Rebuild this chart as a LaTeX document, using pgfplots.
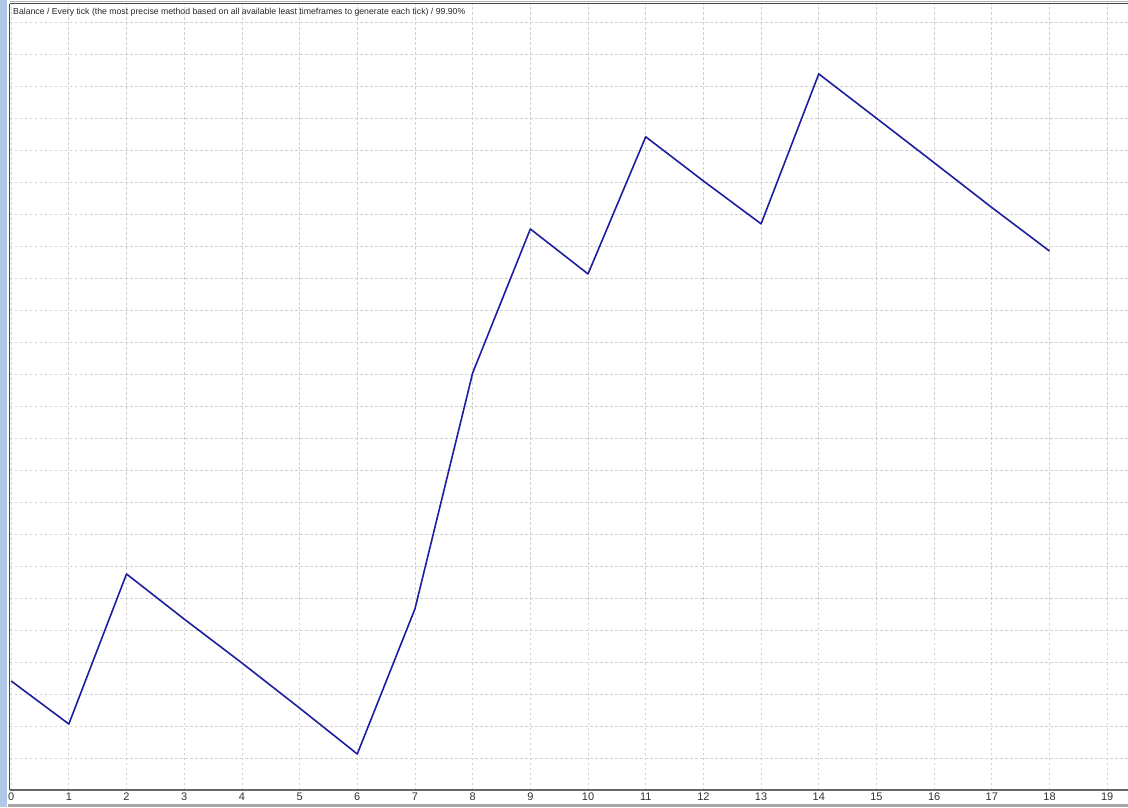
\documentclass[border=0pt]{standalone}
\usepackage{pgfplots}
\pgfplotsset{compat=1.18}
\usepackage{fontspec}
\setmainfont{Liberation Sans}
\definecolor{linec}{RGB}{30,30,160}
\definecolor{gridc}{RGB}{208,208,208}
\definecolor{framec}{RGB}{70,70,70}
\definecolor{stripc}{RGB}{176,200,232}
\begin{document}
\begin{tikzpicture}[x=1pt,y=1pt]
\useasboundingbox (0,0) rectangle (1128,807);
\fill[white] (0,0) rectangle (1128,807);
\fill[stripc] (0,0) rectangle (7,807);
\fill[gray!70] (8,0) rectangle (1128,3);
\begin{axis}[
  at={(10pt,17pt)}, anchor=south west,
  scale only axis, width=1118pt, height=786pt,
  xmin=-0.02, xmax=19.36, ymin=0, ymax=24.56,
  xtick={0,...,19}, ytick={0,...,24},
  yticklabels={},
  major tick length=0pt,
  grid=major,
  major grid style={gridc, dash pattern=on 2.5pt off 2.5pt, line width=0.8pt},
  axis line style={draw=none},
  /pgf/number format/assume math mode=true,
  xticklabel style={font=\fontsize{11}{12}\selectfont, inner sep=0pt, anchor=north, yshift=-3pt, text=black!80},
  clip=false,
]
\addplot[linec, line width=1.6pt, line join=round] coordinates {
(0,3.406) (1,2.0625) (2,6.75) (3,5.34) (4,3.97) (5,2.56) (6,1.125)
(7,5.66) (8,13.03) (9,17.53) (10,16.125) (11,20.41) (12,19.03)
(13,17.69) (14,22.375) (15,20.99) (16,19.6) (17,18.2) (18,16.84)
};
\draw[framec, line width=1pt] (rel axis cs:0,0) -- (rel axis cs:0,1);
\draw[framec, line width=1pt] (rel axis cs:0,1) -- (rel axis cs:1.02,1);
\draw[gray!60, line width=1pt] ([yshift=2pt]rel axis cs:0,1) -- ([yshift=2pt]rel axis cs:1.02,1);
\draw[black!60, line width=2pt] (rel axis cs:0,0) -- (rel axis cs:1.02,0);
\node[anchor=north west, inner sep=0pt, font=\fontsize{8.7}{10}\selectfont, text=black!85] at ([xshift=3pt,yshift=-4pt]rel axis cs:0,1) {Balance / Every tick (the most precise method based on all available least timeframes to generate each tick) / 99.90\%};
\end{axis}
\end{tikzpicture}
\end{document}
